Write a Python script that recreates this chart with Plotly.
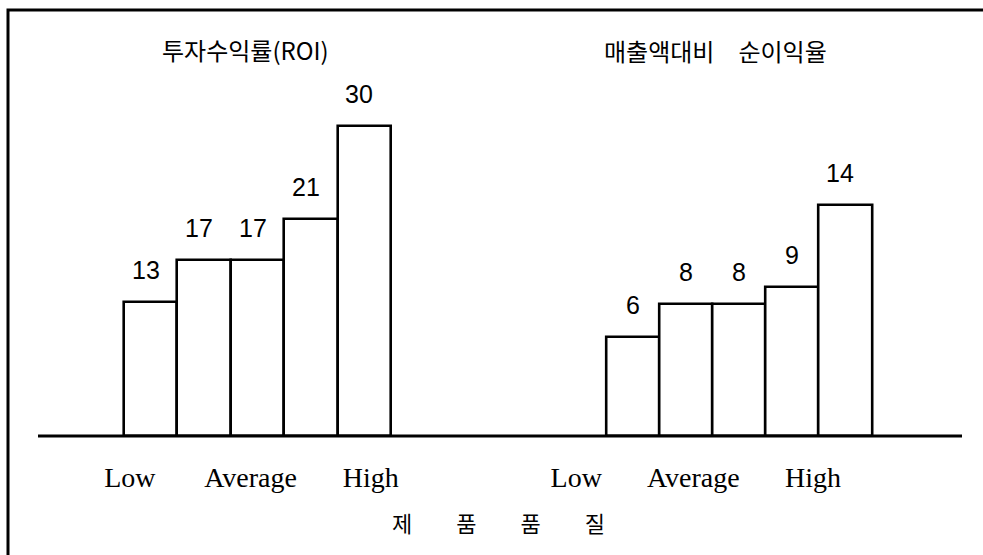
import plotly.graph_objects as go

# ---- data ----
quality_levels = ["Low", "Average", "High"]
roi_values = [13, 17, 17, 21, 30]
margin_values = [6, 8, 8, 9, 14]
title_roi = "투자수익률(ROI)"
title_margin = "매출액대비\u3000순이익율"
axis_title = "제\u3000\u3000품\u3000\u3000품\u3000\u3000질"

W, H = 983, 555
base_y = (H - 436) / H  # baseline position in paper coords

fig = go.Figure()

bar_style = dict(marker=dict(color="white", line=dict(color="black", width=2.6)),
                 width=1.0, showlegend=False, hoverinfo="skip")

fig.add_trace(go.Bar(x=list(range(len(roi_values))), y=roi_values,
                     xaxis="x", yaxis="y", **bar_style))
fig.add_trace(go.Bar(x=list(range(len(margin_values))), y=margin_values,
                     xaxis="x2", yaxis="y2", **bar_style))

annotations = []
for i, v in enumerate(roi_values):
    annotations.append(dict(x=i, y=v, xref="x", yref="y", text=str(v), showarrow=False,
                            yshift=32, xshift=-5, yanchor="middle",
                            font=dict(family="Liberation Sans", size=25, color="black")))
for i, v in enumerate(margin_values):
    annotations.append(dict(x=i, y=v, xref="x2", yref="y2", text=str(v), showarrow=False,
                            yshift=32, xshift=0 if i < 4 else -5, yanchor="middle",
                            font=dict(family="Liberation Sans", size=25, color="black")))

title_font = dict(family="Noto Sans CJK KR", size=24, color="black")
annotations.append(dict(x=245 / W, y=(H - 50) / H, xref="paper", yref="paper", text=title_roi,
                        showarrow=False, yanchor="middle", xanchor="center", font=title_font))
annotations.append(dict(x=715 / W, y=(H - 51) / H, xref="paper", yref="paper", text=title_margin,
                        showarrow=False, yanchor="middle", xanchor="center", font=title_font))
annotations.append(dict(x=498 / W, y=(H - 522) / H, xref="paper", yref="paper", text=axis_title,
                        showarrow=False, yanchor="middle", xanchor="center",
                        font=dict(family="Noto Sans CJK KR", size=22, color="black")))

tick_font = dict(family="Liberation Serif", size=28, color="black")
common_x = dict(showgrid=False, zeroline=False, showline=False, ticks="outside", ticklen=16,
                tickcolor="rgba(0,0,0,0)", tickfont=tick_font, fixedrange=True)
common_y = dict(showgrid=False, zeroline=False, showline=False, showticklabels=False,
                domain=[base_y, 1.0], fixedrange=True)

fig.update_layout(
    width=W, height=H,
    margin=dict(l=0, r=0, t=0, b=0),
    paper_bgcolor="white", plot_bgcolor="white",
    bargap=0,
    xaxis=dict(domain=[0, 0.5], range=[-2.822, 6.382],
               tickvals=[-0.39, 1.87, 4.12], ticktext=quality_levels, anchor="y", **common_x),
    xaxis2=dict(domain=[0.5, 1.0], range=[-2.652, 6.586],
                tickvals=[-1.06, 1.14, 3.39], ticktext=quality_levels, anchor="y2", **common_x),
    yaxis=dict(range=[0, 42.2], anchor="x", **common_y),
    yaxis2=dict(range=[0, 26.4], anchor="x2", **common_y),
    annotations=annotations,
    shapes=[
        dict(type="line", xref="paper", yref="paper", x0=38 / W, x1=962 / W,
             y0=base_y, y1=base_y, line=dict(color="black", width=3), layer="above"),
        dict(type="rect", xref="paper", yref="paper", x0=8 / W, x1=1.05,
             y0=-0.05, y1=(H - 10) / H, line=dict(color="black", width=3)),
    ],
)

fig.write_html("out.html", config={"displayModeBar": False},
               post_script="document.body.style.margin='0';document.body.style.overflow='hidden';")
